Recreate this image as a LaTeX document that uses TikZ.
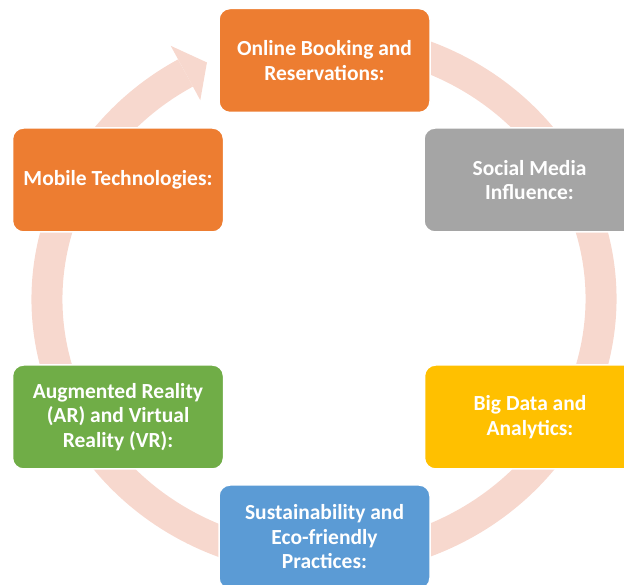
\documentclass[tikz,border=0pt]{standalone}
\usepackage{fontspec}
\setmainfont{Carlito}
\usetikzlibrary{calc}
\definecolor{bandpink}{RGB}{247,216,206}
\definecolor{accorange}{RGB}{237,125,49}
\definecolor{accgray}{RGB}{165,165,165}
\definecolor{accgold}{RGB}{255,192,0}
\definecolor{accblue}{RGB}{91,155,213}
\definecolor{accgreen}{RGB}{112,173,71}
\tikzset{
  topic/.style={rounded corners=11pt, draw=white, line width=1.5pt,
    minimum width=211pt, minimum height=104pt, inner sep=0pt,
    text=white, align=center,
    font=\fontsize{21.5}{24.5}\selectfont\bfseries},
  band/.style={draw=bandpink, line width=31pt},
}
\begin{document}
\begin{tikzpicture}[x=1pt,y=1pt]
  \useasboundingbox (0,0) rectangle (624,584);
  \clip (0,0) rectangle (624,584);
  \coordinate (c) at (324,285);
  % circular arrow behind the topics
  \draw[band] ($(c)+(80:277 and 261)$) arc[start angle=80, end angle=-240, x radius=277, y radius=261];
  \coordinate (tip) at ($(c)+(115:277 and 261)$);
  \coordinate (barbout) at (170.7,538.2);
  \coordinate (barbin) at (200.3,483.8);
  \fill[bandpink] (barbout) -- (tip) -- (barbin) -- cycle;
  % topics
  \node[topic, fill=accorange] (booking) at (324.5,523.5) {Online Booking and\\Reservations:};
  \node[topic, fill=accgray] (social) at (529.5,404) {Social Media\\Influence:};
  \node[topic, fill=accgold] (bigdata) at (530,167) {Big Data and\\Analytics:};
  \node[topic, fill=accblue] (green) at (324.5,47) {Sustainability and\\Eco-friendly\\Practices:};
  \node[topic, fill=accgreen] (arvr) at (118,167) {Augmented Reality\\(AR) and Virtual\\Reality (VR):};
  \node[topic, fill=accorange] (mobile) at (118,404) {Mobile Technologies:};
\end{tikzpicture}
\end{document}
